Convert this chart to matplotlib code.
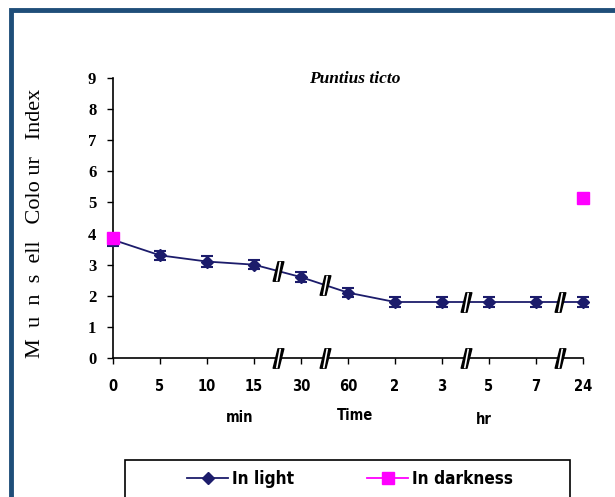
import numpy as np
import matplotlib
matplotlib.use('Agg')
import matplotlib.pyplot as plt
from matplotlib.patches import Rectangle
from matplotlib.path import Path
from matplotlib.lines import Line2D

# Data
time_labels = ['0', '5', '10', '15', '30', '60', '2', '3', '5', '7', '24']
light_mean = [3.8, 3.3, 3.1, 3.0, 2.6, 2.1, 1.8, 1.8, 1.8, 1.8, 1.8]
light_err = [0.2, 0.15, 0.18, 0.15, 0.17, 0.15, 0.17, 0.17, 0.17, 0.17, 0.17]
dark_pos = [0, 10]
dark_mean = [3.85, 5.15]
break_pos = [3.5, 4.5, 7.5, 9.5]

NAVY = '#1c1c6b'
MAGENTA = '#ff00ff'
FRAME = '#1f4e79'

tick_font = {'family': 'DejaVu Sans', 'stretch': 'condensed', 'weight': 'bold', 'size': 10.5}

fig = plt.figure(figsize=(6.15, 4.97), dpi=100)
fig.patch.set_facecolor('white')

# outer frame (thick dark blue border, cut at right/bottom)
fig.patches.append(Rectangle((11 / 615, -0.1), 1.2, 1 - 10 / 497 + 0.1,
                             transform=fig.transFigure, fill=False,
                             edgecolor=FRAME, linewidth=3.5))

ax = fig.add_axes([113 / 615, 1 - 358 / 497, 470 / 615, 280 / 497])
x = np.arange(len(time_labels))

ax.errorbar(x, light_mean, yerr=light_err, color=NAVY, marker='D',
            markersize=6, linewidth=1.3, capsize=4, capthick=1.5,
            elinewidth=1.5, clip_on=False, zorder=3)
ax.plot(dark_pos, dark_mean, linestyle='none', marker='s', markersize=9,
        color=MAGENTA, clip_on=False, zorder=4)

ax.set_xlim(0, 10)
ax.set_ylim(0, 9)
ax.set_xticks(x)
ax.set_xticklabels(time_labels, fontdict=tick_font)
ax.set_yticks(range(10))
ax.set_yticklabels([str(v) for v in range(10)],
                   fontdict={'family': 'Liberation Serif', 'weight': 'bold', 'size': 12})
ax.tick_params(axis='both', direction='out', length=4, width=1, color='black')
ax.tick_params(axis='x', pad=11)
ax.tick_params(axis='y', pad=8)
for side in ['top', 'right']:
    ax.spines[side].set_visible(False)
for side in ['left', 'bottom']:
    ax.spines[side].set_linewidth(1.2)

# axis-break marks
brk = Path([(-0.55, -1), (-0.05, 1), (0.55, 1), (0.05, -1), (-0.55, -1)],
           [Path.MOVETO, Path.LINETO, Path.LINETO, Path.LINETO, Path.CLOSEPOLY])
inner = Path([(-0.15, -0.8), (0.15, 0.8)], [Path.MOVETO, Path.LINETO])
line_y = np.interp(break_pos, x, light_mean)
for yy, tr in [(np.zeros(len(break_pos)), ax.get_xaxis_transform()),
               (line_y, ax.transData)]:
    ax.plot(break_pos, yy, linestyle='none', marker=brk, markersize=14,
            color='black', transform=tr, clip_on=False, zorder=5)
    ax.plot(break_pos, yy, linestyle='none', marker=inner, markersize=14,
            markeredgecolor='white', markeredgewidth=1.2, transform=tr,
            clip_on=False, zorder=6)

ax.text(0.515, 0.995, 'Puntius ticto', transform=ax.transAxes, ha='center',
        va='center', family='Liberation Serif', style='italic',
        weight='bold', size=12.5)

ax.set_ylabel('M  u  n  s  ell   Colo ur   Index', family='Liberation Serif',
              size=16)
ax.yaxis.set_label_coords(-0.145, 0.48)

fig.text(240 / 615, 1 - 418 / 497, 'min', ha='center', va='center', **tick_font)
fig.text(355 / 615, 1 - 415 / 497, 'Time', ha='center', va='center', **tick_font)
fig.text(484 / 615, 1 - 420 / 497, 'hr', ha='center', va='center', **tick_font)

# legend box (cut off at the bottom like the reference)
fig.patches.append(Rectangle((125 / 615, -0.1), 445 / 615, 1 - 460 / 497 + 0.1,
                             transform=fig.transFigure, fill=False,
                             edgecolor='black', linewidth=1.2))
handles = [Line2D([], [], color=NAVY, marker='D', markersize=6, linewidth=1.3),
           Line2D([], [], color=MAGENTA, marker='s', markersize=8, linewidth=1.3)]
leg = fig.legend(handles, ['In light', 'In darkness'], ncol=2,
                 loc='center', bbox_to_anchor=(350 / 615, 1 - 479 / 497),
                 borderaxespad=0, frameon=False,
                 prop={'family': 'DejaVu Sans', 'stretch': 'condensed',
                       'weight': 'bold', 'size': 12.3},
                 handlelength=2.4, columnspacing=4.3, borderpad=0,
                 handletextpad=0.2)

fig.savefig('out.png', dpi=100)
